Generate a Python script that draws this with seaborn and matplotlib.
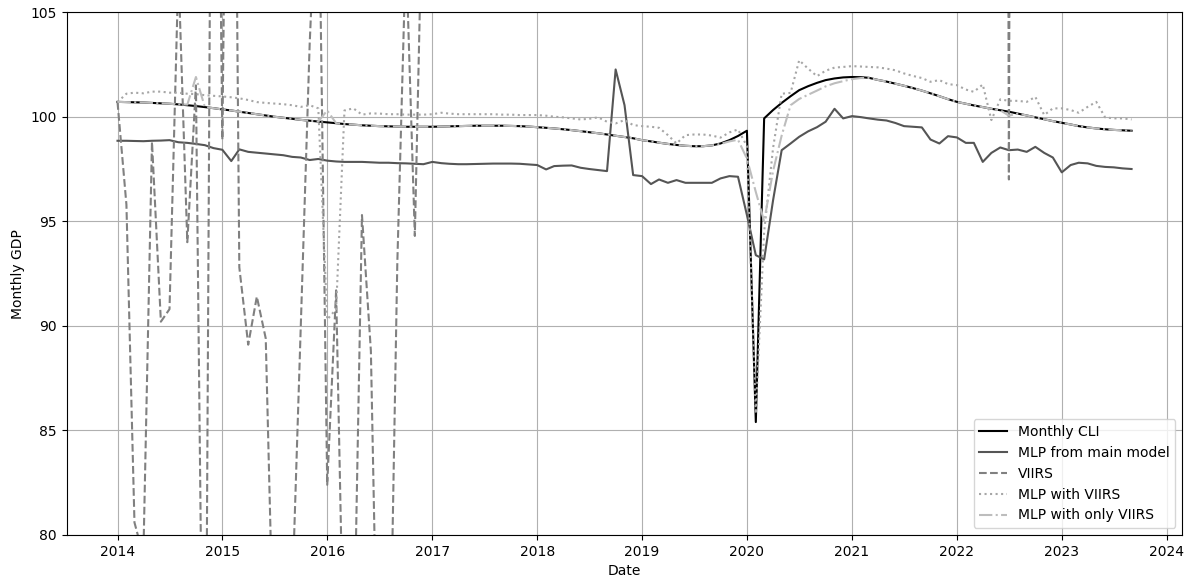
import pandas as pd
import seaborn as sns
import matplotlib.pyplot as plt
import matplotlib.dates as mdates

dates = pd.date_range('2014-01-01', periods=117, freq='MS')

monthly_cli = [
    100.71, 100.70, 100.69, 100.68, 100.66, 100.64, 100.62, 100.59, 100.55, 100.51, 100.46, 100.41,
    100.35, 100.30, 100.24, 100.18, 100.12, 100.06, 100.00, 99.95, 99.90, 99.85, 99.81, 99.77,
    99.73, 99.69, 99.65, 99.62, 99.59, 99.57, 99.55, 99.54, 99.53, 99.52, 99.52, 99.52,
    99.52, 99.53, 99.54, 99.55, 99.56, 99.57, 99.57, 99.57, 99.57, 99.56, 99.55, 99.53,
    99.50, 99.47, 99.44, 99.40, 99.36, 99.31, 99.26, 99.21, 99.15, 99.09, 99.03, 98.97,
    98.88, 98.82, 98.76, 98.70, 98.65, 98.61, 98.59, 98.59, 98.63, 98.72, 98.88, 99.08,
    99.33, 85.40, 99.92, 100.32, 100.66, 100.98, 101.27, 101.46, 101.62, 101.75, 101.83, 101.88,
    101.90, 101.89, 101.86, 101.76, 101.68, 101.58, 101.48, 101.37, 101.25, 101.12, 100.98, 100.84,
    100.71, 100.62, 100.54, 100.46, 100.38, 100.31, 100.24, 100.15, 100.06, 99.97, 99.88, 99.79,
    99.71, 99.63, 99.55, 99.49, 99.44, 99.40, 99.37, 99.35, 99.33,
]

mlp_main = [
    98.85, 98.85, 98.84, 98.83, 98.85, 98.86, 98.88, 98.78, 98.75, 98.70, 98.64, 98.50,
    98.42, 97.88, 98.44, 98.32, 98.28, 98.24, 98.20, 98.16, 98.08, 98.05, 97.93, 97.98,
    97.90, 97.86, 97.84, 97.84, 97.84, 97.82, 97.80, 97.80, 97.78, 97.77, 97.75, 97.73,
    97.84, 97.78, 97.75, 97.73, 97.73, 97.74, 97.75, 97.76, 97.76, 97.76, 97.75, 97.72,
    97.69, 97.48, 97.64, 97.66, 97.67, 97.56, 97.50, 97.45, 97.40, 102.26, 100.55, 97.21,
    97.16, 96.78, 97.00, 96.84, 96.97, 96.84, 96.84, 96.84, 96.84, 97.05, 97.16, 97.13,
    95.30, 93.38, 93.18, 96.00, 98.40, 98.72, 99.04, 99.30, 99.50, 99.76, 100.38, 99.92,
    100.03, 99.98, 99.92, 99.86, 99.82, 99.70, 99.55, 99.52, 99.49, 98.91, 98.72, 99.07,
    99.01, 98.75, 98.75, 97.84, 98.27, 98.53, 98.40, 98.43, 98.32, 98.56, 98.27, 98.05,
    97.34, 97.69, 97.80, 97.77, 97.65, 97.60, 97.58, 97.53, 97.50,
]

viirs = [
    100.7, 95.8, 80.6, 79.0, 98.8, 90.2, 90.8, 107.0, 94.0, 101.5, 62.0, 137.0,
    98.9, 138.0, 92.8, 89.1, 91.4, 89.4, 72.7, 68.0, 77.0, 90.0, 103.5, 113.0,
    82.4, 91.7, 72.0, 73.0, 95.3, 88.8, 67.7, 68.7, 93.0, 108.0, 94.3, 113.0,
    131, 144, 152, 139, 147, 158, 162, 149, 141, 153, 167, 171,
    160, 148, 155, 163, 170, 158, 151, 146, 159, 172, 166, 154,
    149, 157, 168, 175, 161, 152, 147, 158, 166, 173, 169, 156,
    150, 122, 138, 159, 171, 180, 176, 168, 162, 170, 181, 174,
    165, 158, 170, 184, 190, 178, 172, 167, 176, 185, 180, 171,
    166, 175, 183, 190, 205, 260, 97.0, 255, 188, 179, 172, 181,
    176, 170, 184, 192, 187, 180, 175, 183, 178,
]

mlp_viirs = [
    100.70, 101.10, 101.15, 101.12, 101.20, 101.20, 101.15, 101.15, 101.10, 101.08, 101.03, 101.00,
    100.97, 100.93, 100.88, 100.80, 100.70, 100.66, 100.63, 100.60, 100.55, 100.47, 100.55, 100.40,
    90.30, 90.80, 100.30, 100.40, 100.10, 100.16, 100.15, 100.12, 100.12, 100.10, 100.10, 100.10,
    100.12, 100.19, 100.15, 100.12, 100.12, 100.12, 100.12, 100.12, 100.10, 100.10, 100.08, 100.08,
    100.08, 100.05, 100.00, 99.97, 99.92, 99.87, 99.90, 99.97, 99.76, 99.68, 99.84, 99.60,
    99.55, 99.52, 99.47, 99.12, 98.72, 99.12, 99.15, 99.15, 99.10, 99.00, 99.25, 99.39,
    98.60, 85.80, 94.50, 98.50, 101.10, 101.14, 102.70, 102.30, 101.94, 102.20, 102.35, 102.38,
    102.42, 102.40, 102.38, 102.36, 102.30, 102.22, 102.07, 101.95, 101.85, 101.67, 101.75, 101.56,
    101.51, 101.30, 101.19, 101.54, 99.84, 100.83, 100.76, 100.76, 100.71, 100.95, 100.08, 100.40,
    100.40, 100.32, 100.19, 100.47, 100.71, 99.97, 99.92, 99.92, 99.87,
]

mlp_only_viirs = [
    100.71, 100.70, 100.69, 100.68, 100.66, 100.64, 100.62, 100.59, 100.58, 101.90, 100.46, 100.41,
    100.35, 100.30, 100.24, 100.18, 100.12, 100.06, 100.00, 99.95, 99.90, 99.85, 99.81, 99.77,
    100.30, 99.69, 99.65, 99.62, 99.59, 99.57, 99.55, 99.54, 99.53, 99.52, 99.52, 99.52,
    99.52, 99.53, 99.54, 99.55, 99.56, 99.57, 99.57, 99.57, 99.57, 99.56, 99.55, 99.53,
    99.50, 99.47, 99.44, 99.40, 99.36, 99.31, 99.26, 99.21, 99.15, 99.09, 99.03, 98.97,
    98.88, 98.82, 98.76, 98.70, 98.65, 98.61, 98.59, 98.59, 98.63, 98.70, 98.82, 98.90,
    98.00, 96.40, 95.00, 97.40, 99.10, 100.55, 100.85, 101.05, 101.25, 101.45, 101.60, 101.70,
    101.80, 101.85, 101.85, 101.76, 101.68, 101.58, 101.48, 101.37, 101.25, 101.12, 100.98, 100.84,
    100.71, 100.62, 100.54, 100.46, 100.38, 100.31, 100.05, 100.15, 100.06, 99.97, 99.88, 99.79,
    99.71, 99.63, 99.55, 99.49, 99.44, 99.40, 99.37, 99.35, 99.33,
]

series = [
    ('Monthly CLI', monthly_cli, 'black', '-'),
    ('MLP from main model', mlp_main, '#555555', '-'),
    ('VIIRS', viirs, '#808080', '--'),
    ('MLP with VIIRS', mlp_viirs, '#a6a6a6', ':'),
    ('MLP with only VIIRS', mlp_only_viirs, '#bdbdbd', '-.'),
]

fig, ax = plt.subplots(figsize=(11.93, 5.79), dpi=100)

for name, vals, col, ls in series:
    sns.lineplot(x=dates, y=vals, ax=ax, color=col, linestyle=ls, linewidth=1.5, label=name)

ax.set_ylim(80, 105)
ax.xaxis.set_major_locator(mdates.YearLocator())
ax.xaxis.set_major_formatter(mdates.DateFormatter('%Y'))
ax.grid(True)
ax.set_xlabel('Date')
ax.set_ylabel('Monthly GDP')
ax.legend(loc='lower right')

plt.subplots_adjust(left=0.056, right=0.991, top=0.979, bottom=0.076)
plt.savefig('out.png', dpi=100)
